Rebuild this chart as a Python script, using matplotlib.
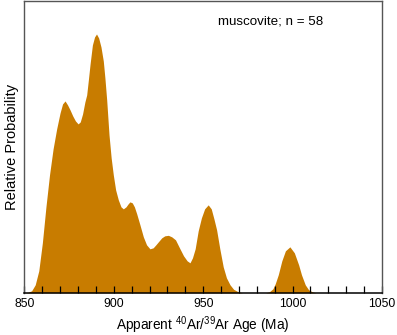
import numpy as np
import matplotlib
matplotlib.use("Agg")
import matplotlib.pyplot as plt
from matplotlib.ticker import MultipleLocator

plt.rcParams['font.family'] = ['Liberation Sans', 'DejaVu Sans']
plt.rcParams['mathtext.fontset'] = 'custom'
plt.rcParams['mathtext.rm'] = 'Liberation Sans'

ages = [850, 852, 854, 856, 858, 860, 862, 864, 866, 868, 869.9, 871.3,
        872.7, 874.1, 875.5, 877, 878.5, 880, 881.2, 882.5, 883.8, 884.8,
        885.8, 886.7, 888, 889.2, 890.3, 891.5, 892.8, 894.1, 895, 896,
        897.3, 898.5, 899.7, 901, 902.5, 904, 905.3, 906.8, 908, 909, 910.3,
        911.5, 912.8, 914.6, 916.5, 918.3, 920.2, 922, 923.5, 924.9, 926.8,
        928.5, 930.5, 932.4, 934.5, 937, 939, 941, 942.6, 944, 945.5, 947.2,
        949, 950.8, 952.8, 954.5, 956, 957.5, 959.3, 961.2, 963, 965, 967,
        969.6, 972, 985, 987, 989, 990.3, 992, 994, 996, 998.5, 1001, 1003.4,
        1005, 1007.1, 1009, 1011, 1013, 1050]
prob = [0, 0.5, 2, 8, 22, 50, 86, 118, 144, 164, 180, 189,
        192, 188, 183, 177, 172, 169, 171, 179, 191, 198,
        214, 229, 248, 256, 259, 255, 246, 232, 215, 193,
        158, 135, 118, 103, 93, 86, 84, 86, 89, 91, 90,
        86, 79, 68, 56, 48, 44, 45, 48, 51, 55,
        57, 57.5, 56, 53, 44, 37, 32, 30, 35, 44, 62,
        75, 84, 88, 84, 74, 63, 44, 26, 15, 8, 3.5,
        1, 0, 0, 1, 4, 9, 18, 32, 42, 46, 40, 28,
        18, 8, 3, 1, 0, 0]
prob = np.array(prob) / 259.0

label_text = "muscovite; n = 58"

fig = plt.figure(figsize=(3.97, 3.35), dpi=100)
ax = fig.add_axes([0.0617, 0.126, 0.9003, 0.871])

ax.fill_between(ages, 0, prob, color='#C87C00', linewidth=0)

ax.set_xlim(850, 1050)
ax.set_ylim(0, 292.0 / 259.0)
ax.xaxis.set_major_locator(MultipleLocator(50))
ax.xaxis.set_minor_locator(MultipleLocator(10))
ax.tick_params(axis='x', which='both', direction='in', length=5, width=0.9,
               color='black', labelsize=8.8, pad=4)
ax.set_yticks([])

for s in ['left', 'top', 'right']:
    ax.spines[s].set_color('#555555')
    ax.spines[s].set_linewidth(1.0)
ax.spines['bottom'].set_color('black')
ax.spines['bottom'].set_linewidth(1.1)

ax.set_xlabel(r'Apparent $^{40}$Ar/$^{39}$Ar Age (Ma)', fontsize=9.8, labelpad=3)
ax.set_ylabel('Relative Probability', fontsize=10.5, labelpad=4)
ax.text(0.69, 0.93, label_text, transform=ax.transAxes, fontsize=9.6,
        ha='center', va='center')

fig.savefig("out.png", dpi=100)
